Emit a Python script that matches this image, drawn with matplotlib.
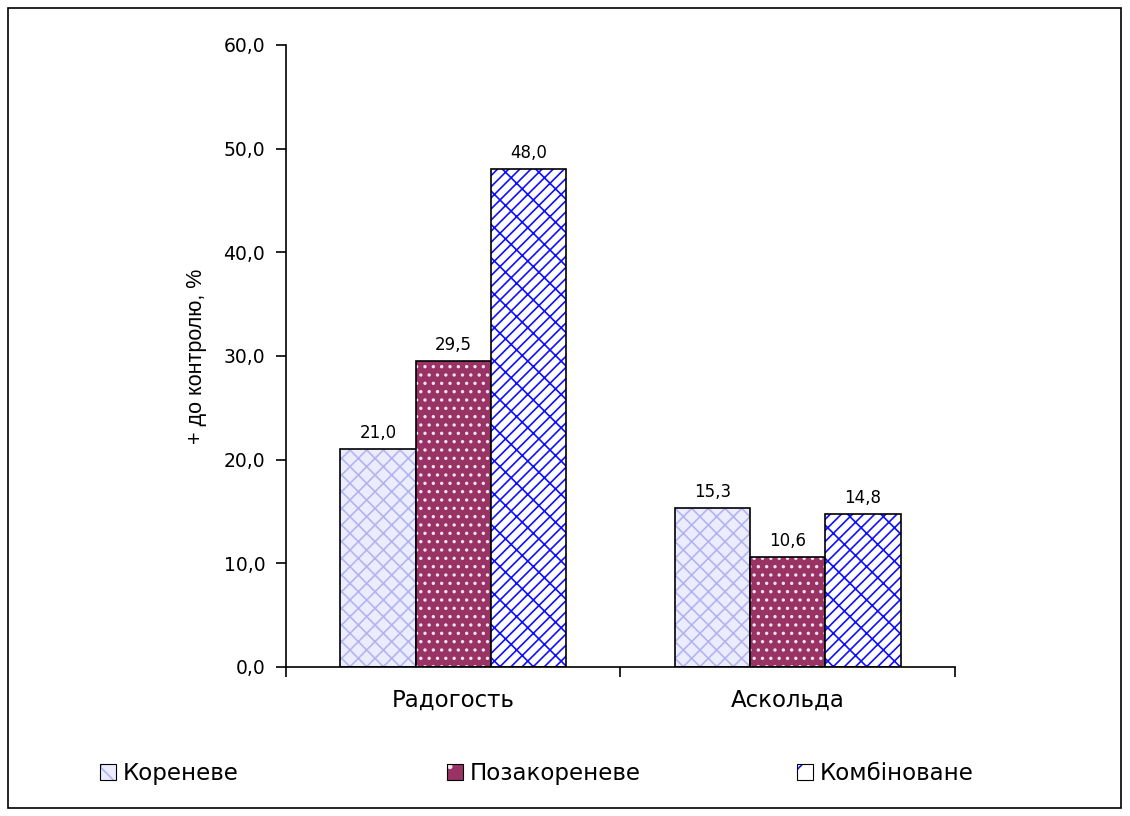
import numpy as np
import matplotlib.pyplot as plt
from matplotlib.patches import Patch, Rectangle

plt.rcParams['font.family'] = ['DejaVu Sans']
plt.rcParams['hatch.linewidth'] = 1.2

# data
varieties = ['Радогость', 'Аскольда']
series = ['Кореневе', 'Позакореневе', 'Комбіноване']
values = [[21.0, 15.3], [29.5, 10.6], [48.0, 14.8]]
ylabel = '+ до контролю, %'

faces = ['#ececff', '#993366', 'white']
hatch_cols = ['#b4b4f0', '#f4e4ec', '#1010ff']
hatches = ['xx', '..', '//x']
legend_x = [0.0885, 0.3955, 0.7055]

fig = plt.figure(figsize=(11.3, 8.16), dpi=100)
fig.patches.append(Rectangle((0.007, 0.01), 0.985, 0.98, transform=fig.transFigure,
                             fill=False, edgecolor='black', linewidth=1.2))
ax = fig.add_axes([0.2531, 0.1826, 0.5920, 0.7623])

x = np.arange(len(varieties))
w = 0.225
for i, (name, vals) in enumerate(zip(series, values)):
    pos = x + (i - 1) * w
    ax.bar(pos, vals, w, color=faces[i], edgecolor=hatch_cols[i], hatch=hatches[i], linewidth=0)
    ax.bar(pos, vals, w, fill=False, edgecolor='black', linewidth=1.2)
    for px, v in zip(pos, vals):
        ax.annotate(f'{v:.1f}'.replace('.', ','), (px, v), xytext=(0, 5), textcoords='offset points',
                    ha='center', va='bottom', fontsize=12)

ax.set_xlim(-0.5, 1.5)
ax.set_ylim(0, 60)
yt = np.arange(0, 61, 10)
ax.set_yticks(yt)
ax.set_yticklabels([f'{t:.1f}'.replace('.', ',') for t in yt], fontsize=13.5)
ax.set_xticks([-0.5, 0.5, 1.5])
ax.set_xticklabels([])
ax.set_xticks(x, minor=True)
ax.set_xticklabels(varieties, minor=True, fontsize=16.5)
ax.tick_params(axis='x', which='minor', length=0, pad=16)
ax.tick_params(axis='both', which='major', direction='out', length=7, width=1.2)
ax.tick_params(axis='y', pad=8)
for s in ['top', 'right']:
    ax.spines[s].set_visible(False)
for s in ['left', 'bottom']:
    ax.spines[s].set_linewidth(1.2)
ax.set_ylabel(ylabel, fontsize=15.5, family=['Liberation Sans'], labelpad=12)

for i in range(3):
    h = (Patch(facecolor=faces[i], edgecolor=hatch_cols[i], hatch=hatches[i][0], linewidth=0),
         Patch(fill=False, edgecolor='black', linewidth=0.8))
    leg = fig.legend([h], [series[i]], loc='center left', bbox_to_anchor=(legend_x[i], 0.052),
                     frameon=False, fontsize=16.5, handlelength=0.7, handleheight=0.7,
                     handletextpad=0.3, borderaxespad=0, borderpad=0)

fig.savefig('out.png', dpi=100)
